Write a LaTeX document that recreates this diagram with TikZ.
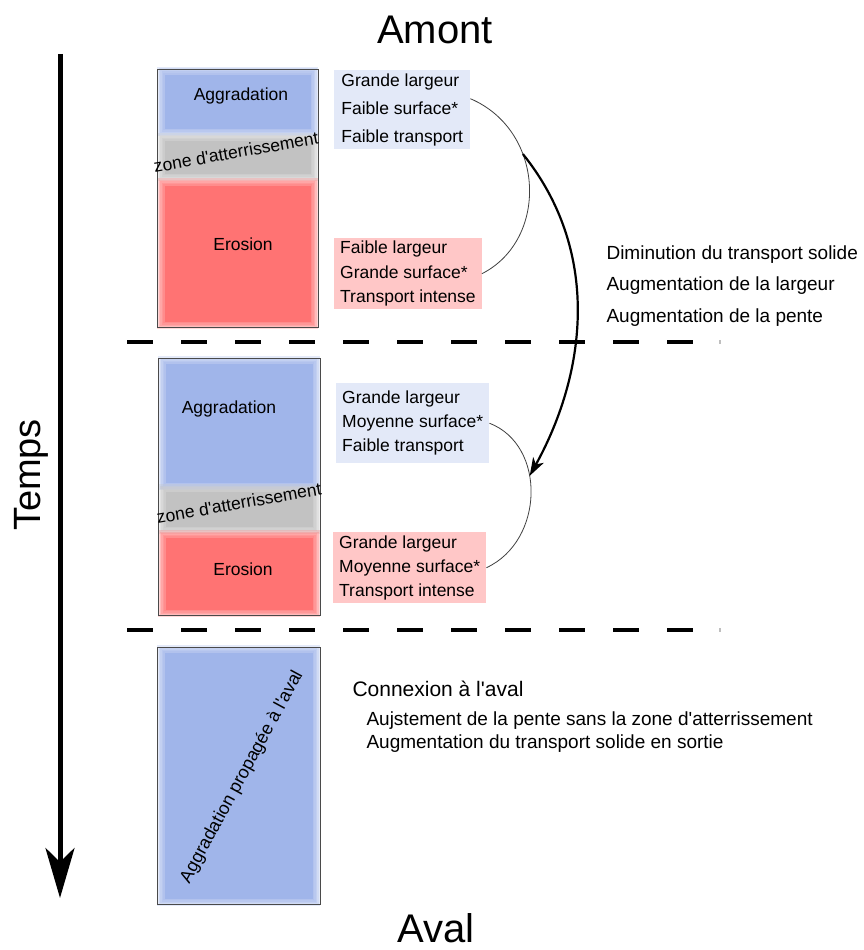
\documentclass[tikz,border=0pt]{standalone}
\usepackage{fontspec}
\setmainfont{Liberation Sans}[Ligatures=TeXOff]
\usetikzlibrary{arrows.meta}
\definecolor{aggblue}{HTML}{A0B5EA}
\definecolor{erored}{HTML}{FF7373}
\definecolor{zonegrey}{HTML}{C2C2C2}
\definecolor{lblue}{HTML}{E3E9F8}
\definecolor{lred}{HTML}{FFC7C7}
\definecolor{boxline}{HTML}{4A4A4A}
\newcommand\softrect[5]{%
  \foreach \d in {0,1.5,3,4.5,6}{\fill[#5,opacity=0.28] ({#1+\d},{#2+\d}) rectangle ({#3-\d},{#4-\d});}%
  \fill[#5] ({#1+7.5},{#2+7.5}) rectangle ({#3-7.5},{#4-7.5});}
\newcommand\lblfont{\fontsize{17.5}{21}\selectfont}
\tikzset{
  colbox/.style={draw=boxline, line width=1.2pt, anchor=north west, inner sep=0pt, fill=none},
  tbox/.style={anchor=north west, align=left, inner xsep=6pt, inner ysep=0pt},
  sep/.style={line width=4pt, dash pattern=on 26pt off 28pt},
  thinarc/.style={line width=0.8pt, draw=black!75},
  bigtitle/.style={font=\fontsize{40}{48}\selectfont},
  lbl/.style={font=\lblfont},
  note/.style={font=\fontsize{19}{31.5}\selectfont, align=left}
}
\begin{document}
\begin{tikzpicture}[x=1pt,y=-1pt]
\useasboundingbox (0,0) rectangle (864,950);
\fill[white] (0,0) rectangle (864,950);

% titles
\node[bigtitle] (amont) at (435,30) {Amont};
\node[bigtitle] (aval) at (436,928) {Aval};
\node[rotate=90, font=\fontsize{38}{44}\selectfont] (temps) at (31,475) {Temps};

% time axis
\coordinate (tstart) at (60,54);
\coordinate (tend) at (60,898);
\draw[line width=5pt, -{Stealth[length=50pt, width=29pt, inset=14pt]}] (tstart) -- (tend);

% separators
\draw[sep] (127,342) -- (695,342);
\draw[sep] (127,630) -- (695,630);
\fill[black!25] (719,340) rectangle (721,344);
\fill[black!25] (719,628) rectangle (721,632);

% column 1
\softrect{157}{67}{318}{136}{aggblue}
\softrect{157}{133}{318}{181}{zonegrey}
\softrect{157}{178}{318}{329}{erored}
\node[colbox, minimum width=161pt, minimum height=258pt] (box1) at (157,69) {};
\node[lbl] (agg1) at (241,96) {Aggradation};
\node[lbl] (ero1) at (243,244) {Erosion};
\node[lbl, rotate=10] (zone1) at (236,152) {zone d'atterrissement};

% column 2
\softrect{158}{356}{320}{490}{aggblue}
\softrect{158}{484}{320}{534}{zonegrey}
\softrect{158}{530}{320}{617}{erored}
\node[colbox, minimum width=162pt, minimum height=257pt] (box2) at (158,358) {};
\node[lbl] (agg2) at (229,409) {Aggradation};
\node[lbl] (ero2) at (243,569) {Erosion};
\node[lbl, rotate=10] (zone2) at (239,503) {zone d'atterrissement};

% column 3
\softrect{157}{645}{320}{906}{aggblue}
\node[colbox, minimum width=163pt, minimum height=257pt] (box3) at (157,647) {};
\node[font=\fontsize{18}{21}\selectfont, rotate=61.5] (agg3) at (242,777) {Aggradation propagée à l'aval};

% text boxes
\node[tbox, fill=lblue, minimum width=136pt, minimum height=79pt, font=\fontsize{17.5}{28}\selectfont] (b1) at (334,70)
  {Grande largeur\\Faible surface*\\Faible transport};
\node[tbox, fill=lred, minimum width=144pt, minimum height=71pt, font=\fontsize{17.5}{24.5}\selectfont] (r1) at (334,238)
  {Faible largeur\\Grande surface*\\Transport intense};
\node[tbox, fill=lblue, minimum width=143pt, minimum height=80pt, font=\fontsize{17.5}{24}\selectfont] (b2) at (336,383)
  {Grande largeur\\Moyenne surface*\\Faible transport};
\node[tbox, fill=lred, minimum width=145pt, minimum height=71pt, font=\fontsize{17.5}{24}\selectfont] (r2) at (333,532)
  {Grande largeur\\Moyenne surface*\\Transport intense};

% thin arcs
\draw[thinarc] ([yshift=11pt]b1.east) .. controls +(75,32) and +(67,-34) .. (r1.east) coordinate[pos=0.35] (p1);
\draw[thinarc] (b2.east) .. controls +(57,22) and +(58,-27) .. (r2.east) coordinate[pos=0.4] (p2);

% thick arrow
\draw[line width=2.2pt, -{Stealth[length=18pt, width=12pt, inset=5pt]}] (p1) .. controls (600,250) and (588,370) .. (p2);

% notes
\node[note, anchor=north west] (n1) at (603,242)
  {Diminution du transport solide\\Augmentation de la largeur\\Augmentation de la pente};
\node[font=\fontsize{21}{25}\selectfont, anchor=west] (cx) at (349,689) {Connexion à l'aval};
\node[font=\fontsize{19}{23.5}\selectfont, align=left, anchor=north west] (cx2) at (363,708)
  {Aujstement de la pente sans la zone d'atterrissement\\Augmentation du transport solide en sortie};
\end{tikzpicture}
\end{document}
